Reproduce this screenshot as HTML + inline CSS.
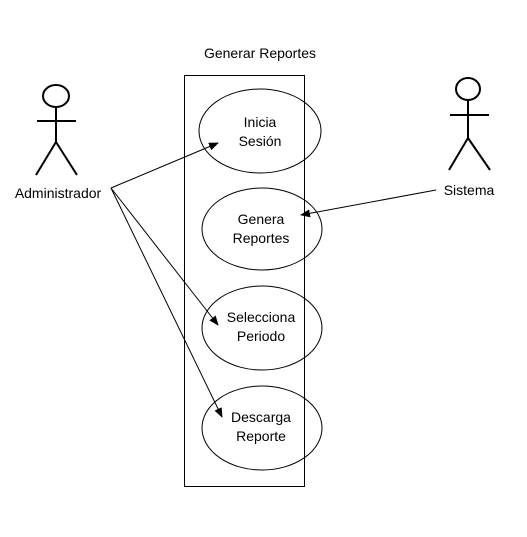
<!DOCTYPE html>
<html><head><style>
body{margin:0;background:#fff;}
svg text{font-family:"Liberation Sans",sans-serif;font-size:14px;fill:#000;}
</style></head><body>
<svg width="527" height="532" viewBox="0 0 527 532">
<defs><marker id="a" markerWidth="10" markerHeight="8" refX="9" refY="4" orient="auto" markerUnits="userSpaceOnUse"><path d="M0,0 L10,4 L0,8 z" fill="#000"/></marker></defs>
<text x="260" y="58" text-anchor="middle">Generar Reportes</text>
<rect x="184.5" y="75.5" width="120" height="411" fill="none" stroke="#000"/>
<g fill="none" stroke="#000">
<ellipse cx="260" cy="131" rx="61" ry="42"/>
<ellipse cx="262" cy="229" rx="60" ry="41"/>
<ellipse cx="262" cy="328" rx="60" ry="42"/>
<ellipse cx="262" cy="428" rx="60" ry="42"/>
</g>
<g text-anchor="middle">
<text x="260" y="127">Inicia</text><text x="260" y="146">Sesión</text>
<text x="261" y="224">Genera</text><text x="261" y="243">Reportes</text>
<text x="261" y="322">Selecciona</text><text x="261" y="341">Periodo</text>
<text x="261" y="422">Descarga</text><text x="261" y="441">Reporte</text>
<text x="58" y="198">Administrador</text>
<text x="469" y="195">Sistema</text>
</g>
<g stroke="#000" stroke-width="2" fill="none">
<ellipse cx="56" cy="96" rx="13" ry="11"/>
<path d="M56,107 V142 M37,121 H76 M56,142 L36,175 M56,142 L77,175"/>
<ellipse cx="468" cy="89" rx="12" ry="11"/>
<path d="M468,100 V138 M450,115 H489 M468,138 L449,170 M468,138 L490,170"/>
</g>
<g stroke="#000" stroke-width="1" marker-end="url(#a)">
<line x1="111" y1="188" x2="218" y2="143"/>
<line x1="111" y1="188" x2="218" y2="325"/>
<line x1="111" y1="188" x2="222" y2="417"/>
<line x1="436" y1="190" x2="301" y2="215"/>
</g>
</svg>
</body></html>
